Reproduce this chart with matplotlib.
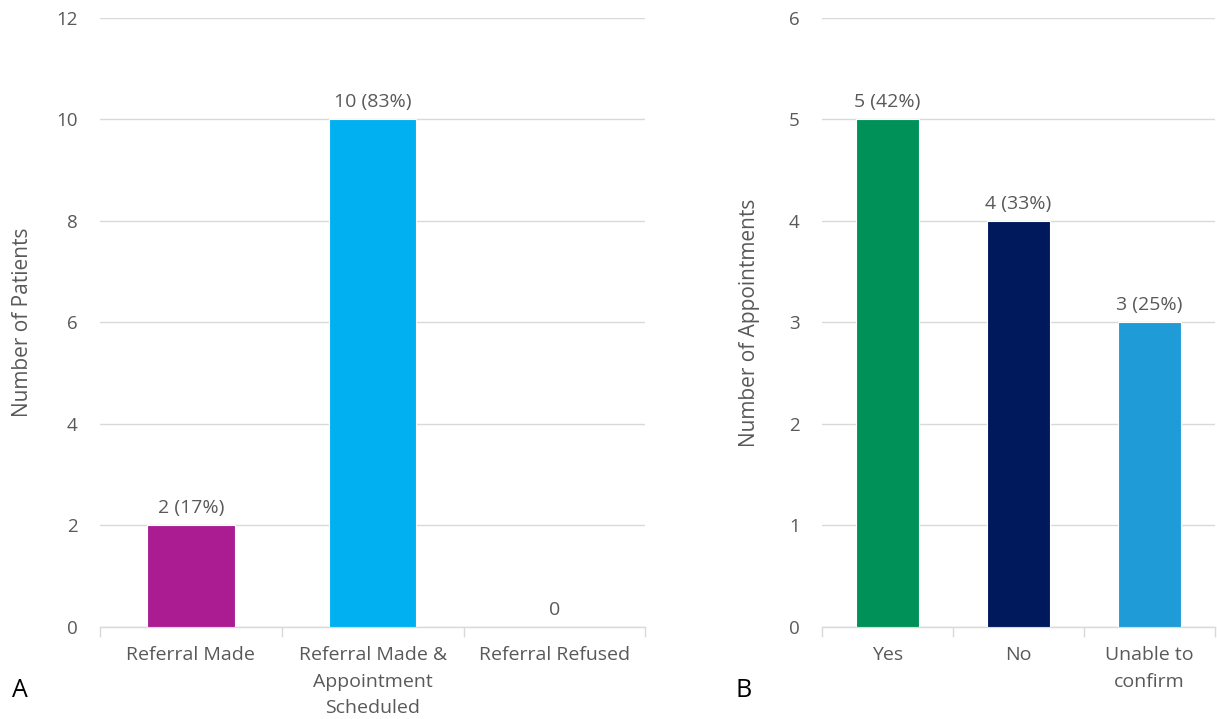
import matplotlib
matplotlib.use("Agg")
import matplotlib.pyplot as plt
import numpy as np

plt.rcParams['font.family'] = ['Open Sans', 'DejaVu Sans']

cats_a = ["Referral Made", "Referral Made &\nAppointment\nScheduled", "Referral Refused"]
vals_a = [2, 10, 0]
labels_a = ["2 (17%)", "10 (83%)", "0"]
colors_a = ["#AB1C93", "#00B0F0", "#00B0F0"]

cats_b = ["Yes", "No", "Unable to\nconfirm"]
vals_b = [5, 4, 3]
labels_b = ["5 (42%)", "4 (33%)", "3 (25%)"]
colors_b = ["#009159", "#00195C", "#1F9BD7"]

GRAY = "#595959"
GRID = "#D9D9D9"

fig = plt.figure(figsize=(12.17, 7.19), dpi=100)

def panel(rect, cats, vals, labels, colors, ymax, step, ylabel, lpad, letter, letter_x):
    ax = fig.add_axes(rect)
    x = np.arange(len(cats))
    ax.bar(x, vals, width=0.48, color=colors, edgecolor="white", linewidth=0.8, zorder=3)
    for xi, v, lab in zip(x, vals, labels):
        ax.annotate(lab, (xi, v), xytext=(0, 6), textcoords="offset points",
                    ha="center", va="bottom", fontsize=14, color=GRAY)
    ax.set_xlim(-0.5, len(cats) - 0.5)
    ax.set_ylim(0, ymax)
    ax.set_yticks(np.arange(0, ymax + step / 2, step))
    ax.yaxis.grid(True, color=GRID, linewidth=1, zorder=0)
    for s in ["top", "right", "left"]:
        ax.spines[s].set_visible(False)
    ax.spines["bottom"].set_color(GRID)
    ax.spines["bottom"].set_linewidth(1)
    ax.set_xticks(x)
    ax.set_xticklabels(cats, fontsize=14, color=GRAY, linespacing=1.6)
    ax.tick_params(axis="x", which="major", length=0, pad=14)
    ax.set_xticks(np.arange(-0.5, len(cats), 1.0), minor=True)
    ax.tick_params(axis="x", which="minor", length=7, color=GRID, width=1)
    ax.tick_params(axis="y", length=0, labelsize=13.5, labelcolor=GRAY, pad=16)
    ax.set_ylabel(ylabel, fontsize=15, color=GRAY, labelpad=lpad)
    fig.text(letter_x, 0.04, letter, fontsize=18, color="black", ha="left", va="center")
    return ax

panel([0.0822, 0.128, 0.448, 0.847], cats_a, vals_a, labels_a, colors_a, 12, 2,
      "Number of Patients", 17, "A", 0.010)
panel([0.6754, 0.128, 0.3226, 0.847], cats_b, vals_b, labels_b, colors_b, 6, 1,
      "Number of Appointments", 21, "B", 0.604)

fig.savefig("out.png", dpi=100)
